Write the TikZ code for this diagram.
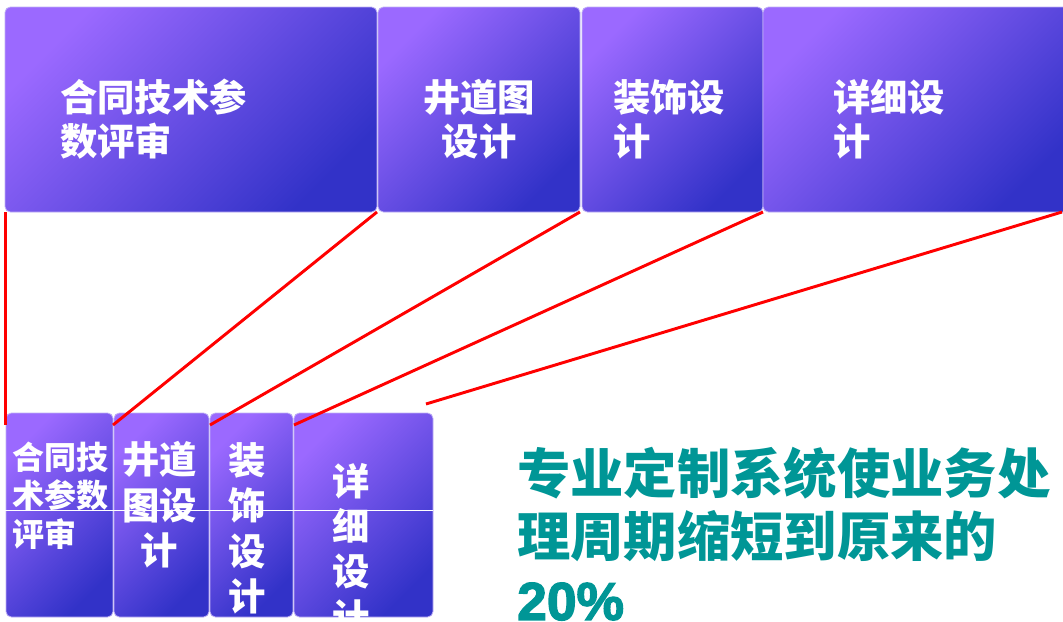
\documentclass[tikz,border=0pt]{standalone}
\usepackage{fontspec}
\setmainfont{Noto Sans CJK SC}
\newfontfamily\numfont{Liberation Sans}[FakeBold=2.5]
\usetikzlibrary{calc}
\definecolor{boxlight}{RGB}{155,105,255}
\definecolor{boxdark}{RGB}{50,50,200}
\definecolor{boxedge}{RGB}{190,175,245}
\definecolor{linkred}{RGB}{255,0,0}
\definecolor{noteteal}{RGB}{0,150,150}
\tikzset{
  stagebox/.style={draw=boxedge, line width=0.6pt, rounded corners=4pt,
    top color=boxlight, bottom color=boxdark, shading angle=45,
    inner sep=0pt, outer sep=0pt, anchor=north west},
  biglabel/.style={text=white, inner sep=0pt, font=\bfseries\fontsize{28}{33}\selectfont},
  smalllabel/.style={text=white, inner sep=0pt, font=\bfseries\fontsize{24}{29}\selectfont},
  tallabel/.style={text=white, inner sep=0pt, align=center, font=\bfseries\fontsize{28}{34}\selectfont},
  link/.style={draw=linkred, line width=2.2pt},
}

\begin{document}
\begin{tikzpicture}[x=0.75pt, y=-0.75pt]
  %%%%% START %%%%%
  \useasboundingbox (0,0) rectangle (1063,621);
  \clip (0,0) rectangle (1063,621);

  % top row
  \node[stagebox, minimum width=279pt, minimum height=153.75pt] (t1) at (5,7) {};
  \node[stagebox, minimum width=151.5pt, minimum height=153.75pt] (t2) at (378,7) {};
  \node[stagebox, minimum width=135.75pt, minimum height=153.75pt] (t3) at (582,7) {};
  \node[stagebox, minimum width=231pt, minimum height=153.75pt] (t4) at (763,7) {};

  \node[biglabel, anchor=west, align=left] (t1txt) at (60,119) {合同技术参\\数评审};
  \node[biglabel, align=center] (t2txt) at (479,119) {井道图\\设计};
  \node[biglabel, anchor=west, align=left] (t3txt) at (613,119) {装饰设\\计};
  \node[biglabel, anchor=west, align=left] (t4txt) at (833,119) {详细设\\计};

  % bottom row
  \node[stagebox, minimum width=80.25pt, minimum height=153pt] (b1) at (6,413) {};
  \node[stagebox, minimum width=71.25pt, minimum height=153pt] (b2) at (114,413) {};
  \node[stagebox, minimum width=62.25pt, minimum height=153pt] (b3) at (210,413) {};
  \node[stagebox, minimum width=104.25pt, minimum height=153pt] (b4) at (294,413) {};

  \begin{scope}
    \clip (6,413) rectangle (433,617);
    \node[smalllabel, anchor=west, align=left] (b1txt) at (12,495.5) {合同技\\术参数\\评审};
    \node[tallabel] (b2txt) at (159.5,505) {井道\\图设\\计};
    \node[tallabel] (b3txt) at (247.5,528.5) {装\\饰\\设\\计};
    \node[tallabel] (b4txt) at (351.5,549) {详\\细\\设\\计};
  \end{scope}

  % thin white rule across the bottom row
  \coordinate (r1) at (5,510);
  \coordinate (r2) at (433,510);
  \draw[white, line width=0.75pt] (r1) -- (r2);

  % red links
  \coordinate (e1) at (5.5,425);
  \coordinate (e2) at (113,425);
  \coordinate (e3) at (210,425);
  \coordinate (e4) at (294,425);
  \coordinate (s5) at (1062,212);
  \coordinate (e5) at (426,404);
  \draw[link] (t1.south west -| e1) -- (e1);
  \draw[link] (t1.south east) -- (e2);
  \draw[link] (t2.south east) -- (e3);
  \draw[link] (t3.south east) -- (e4);
  \draw[link] (s5) -- (e5);

  % note
  \node[text=noteteal, inner sep=0pt, anchor=west, align=left,
    font=\bfseries\fontsize{40}{47.25}\selectfont] (note) at (517,534)
    {专业定制系统使业务处\\理周期缩短到原来的\\{\numfont 20\%}};
  %%%%% END %%%%%
\end{tikzpicture}
\end{document}
